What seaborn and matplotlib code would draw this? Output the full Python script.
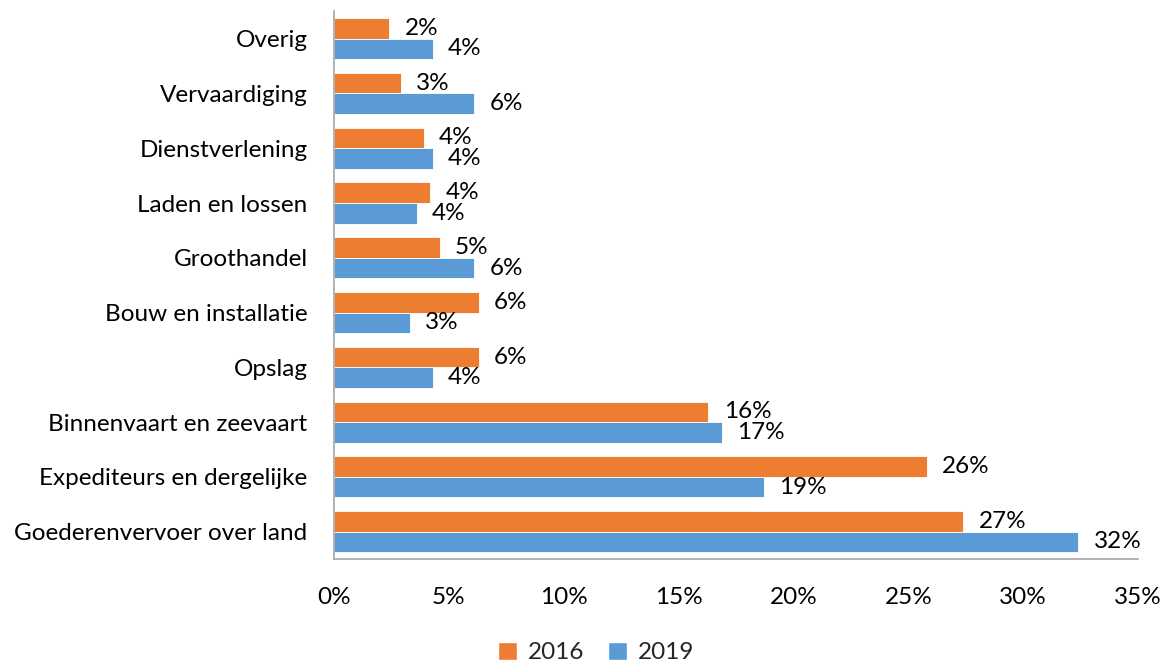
import pandas as pd
import numpy as np
import matplotlib
matplotlib.use("Agg")
import matplotlib.pyplot as plt
import seaborn as sns
from matplotlib.patches import Patch

sns.set_theme(style="white")
plt.rcParams['font.family'] = ['Lato', 'DejaVu Sans']

# Data (share per sector)
sectors = ["Overig", "Vervaardiging", "Dienstverlening", "Laden en lossen",
           "Groothandel", "Bouw en installatie", "Opslag",
           "Binnenvaart en zeevaart", "Expediteurs en dergelijke",
           "Goederenvervoer over land"]
share_2016 = [2.4, 2.9, 3.9, 4.2, 4.6, 6.3, 6.3, 16.3, 25.8, 27.4]
share_2019 = [4.3, 6.1, 4.3, 3.6, 6.1, 3.3, 4.3, 16.9, 18.7, 32.4]
years = ["2016", "2019"]
colors = {"2016": "#ED7D31", "2019": "#5B9BD5"}
xticks = [0, 5, 10, 15, 20, 25, 30, 35]

df = pd.DataFrame({
    "Sector": sectors * 2,
    "Jaar": ["2016"] * len(sectors) + ["2019"] * len(sectors),
    "Aandeel": share_2016 + share_2019,
})

fs = 17.5

fig = plt.figure(figsize=(11.69, 6.64), dpi=100)
ax = fig.add_axes([0.2857, 0.158, 0.6878, 0.825])

sns.barplot(data=df, y="Sector", x="Aandeel", hue="Jaar", order=sectors,
            hue_order=years, palette=colors, saturation=1, orient="h",
            width=0.75, edgecolor="white", linewidth=0.6, ax=ax, legend=False)

for cont in ax.containers:
    ax.bar_label(cont, labels=[f"{v:.0f}%" for v in cont.datavalues],
                 padding=11, fontsize=fs, color="black")

ax.set_xlim(0, 35)
ax.set_xticks(xticks)
ax.set_xticklabels([f"{t}%" for t in xticks])
ax.set_xlabel("")
ax.set_ylabel("")
ax.tick_params(axis="x", length=0, pad=20, labelsize=fs, labelcolor="black")
ax.tick_params(axis="y", length=0, pad=19, labelsize=fs, labelcolor="black")
ax.set_ylim(len(sectors) - 0.5, -0.5)

for side in ["top", "right"]:
    ax.spines[side].set_visible(False)
for side in ["left", "bottom"]:
    ax.spines[side].set_color("#A6A6A6")
    ax.spines[side].set_linewidth(1.2)
ax.grid(False)

handles = [Patch(facecolor=colors[y], label=y) for y in years]
fig.legend(handles=handles, loc="lower center", ncol=2, frameon=False,
           fontsize=fs, bbox_to_anchor=(0.51, -0.032), handlelength=0.75,
           handleheight=0.75, handletextpad=0.45, columnspacing=1.0)

fig.savefig("out.png", dpi=100)
